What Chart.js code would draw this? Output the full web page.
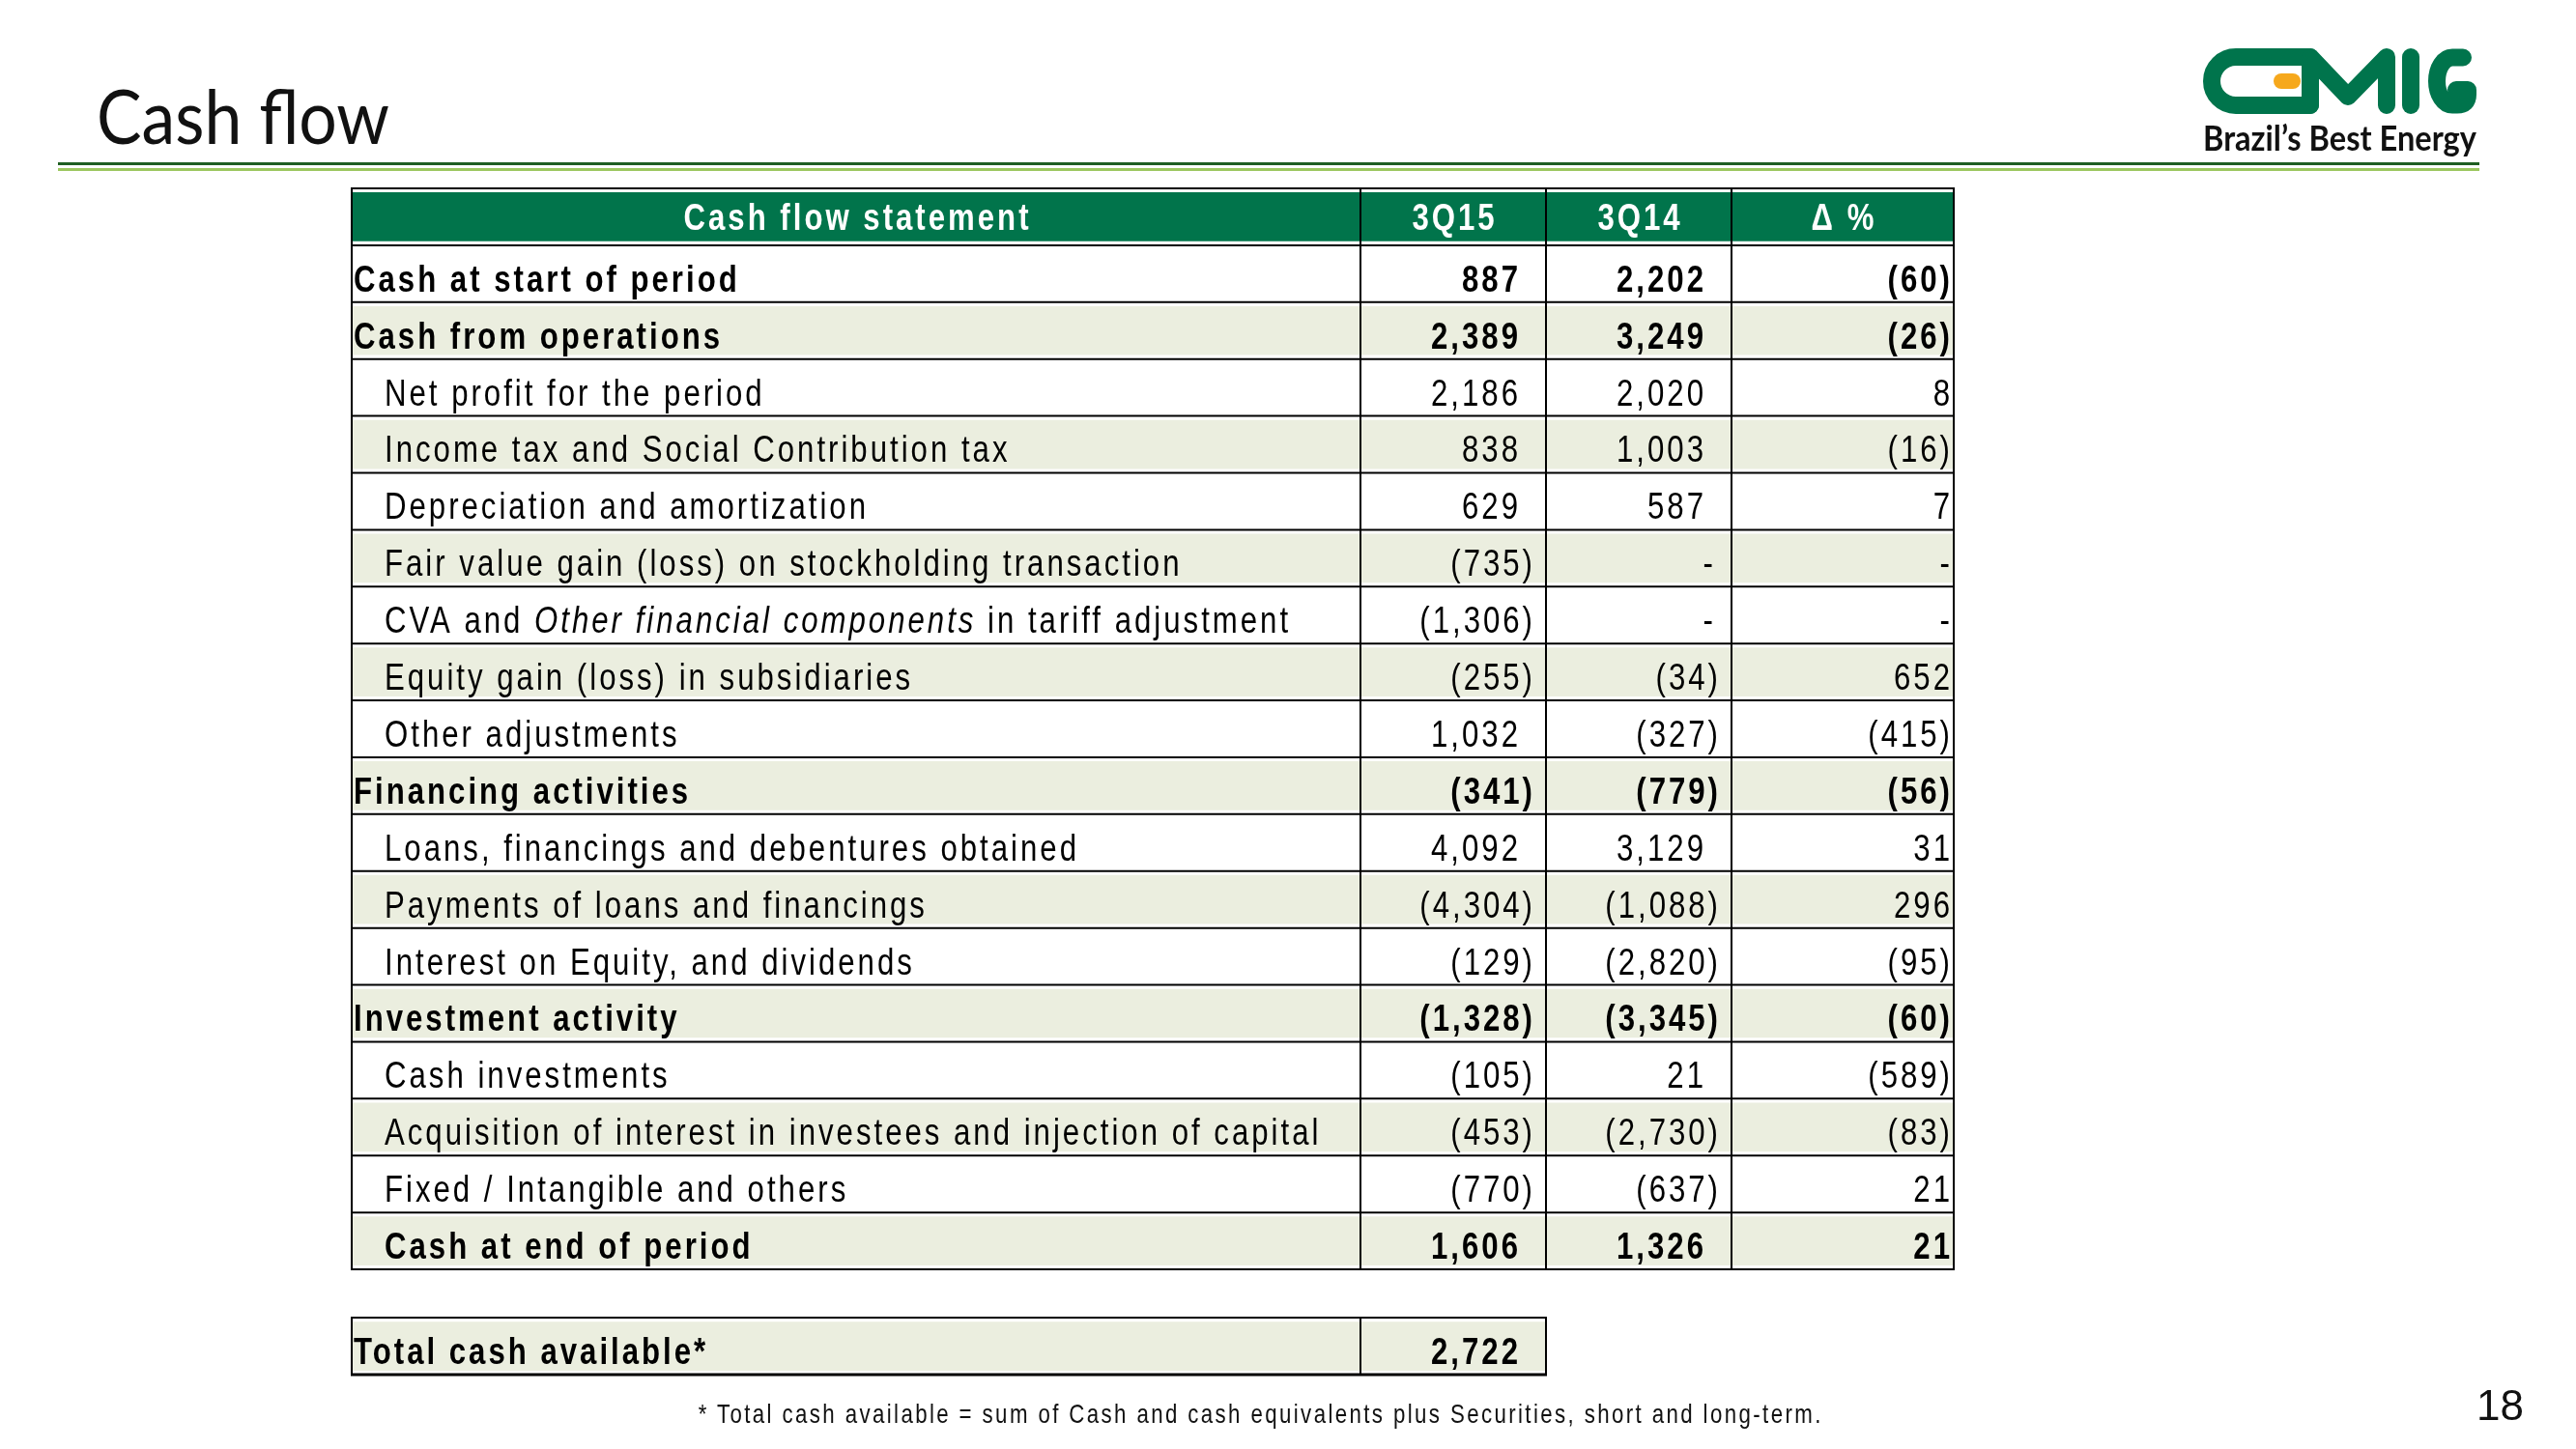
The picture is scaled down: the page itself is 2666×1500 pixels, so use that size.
<!DOCTYPE html>
<html lang="en">
<head>
    <meta charset="UTF-8">
    <title>Cash flow</title>
    <script src="https://cdn.jsdelivr.net/npm/chart.js"></script>
    <style>
        body {
            margin: 0;
            width: 2666px;
            height: 1500px;
            position: relative;
            overflow: hidden;
            background: #fff;
        }
        #table { position: absolute; left: 0; top: 0; }
        .abs { position: absolute; white-space: nowrap; line-height: 1; }
        #title { left: 100px; top: 72px; font: 78px Lato, sans-serif; color: #111; transform-origin: left center; }
        .rule { position: absolute; left: 60px; width: 2506px; height: 3px; }
        #logo { position: absolute; left: 2280px; top: 48px; }
        #tagline { left: 2280px; top: 120px; font: bold 36px Lato, sans-serif; color: #111; transform-origin: left center; }
        #note { top: 1448px; font: 28px "Liberation Sans", Arial, sans-serif; letter-spacing: 3px; color: #111; transform-origin: center center; }
        #page { left: 2563px; top: 1430px; font: 44px "Liberation Sans", Arial, sans-serif; color: #111; }
    </style>
</head>
<body>
    <canvas id="table" width="2666" height="1500"></canvas>

    <div class="abs" id="title">Cash flow</div>
    <div class="rule" style="top:168px;background:#1f5e22"></div>
    <div class="rule" style="top:174px;background:#9cc760"></div>

    <svg id="logo" width="290" height="74" viewBox="0 0 290 74">
        <g fill="none" stroke="#00744c" stroke-width="18" stroke-linecap="round" stroke-linejoin="round">
            <path d="M111,11 H34 A25,25 0 0 0 34,61 H111"/>
            <path d="M111,61 V11 L150,52 L190,11 V61"/>
            <path d="M215,11 V61"/>
            <path d="M269,11.5 H258 A16,24.5 0 0 0 258,60.5 H263 Q274,60.5 274,50 V45 H262"/>
        </g>
        <rect x="73" y="28" width="28" height="16" rx="8" fill="#f6a81c"/>
    </svg>
    <div class="abs" id="tagline">Brazil’s Best Energy</div>

    <div class="abs" id="note">* Total cash available = sum of Cash and cash equivalents plus Securities, short and long-term.</div>
    <div class="abs" id="page">18</div>

    <script>
        // table content
        const headers = ['Cash flow statement', '3Q15', '3Q14', 'Δ %'];
        const rowLabels = [
            'Cash at start of period',
            'Cash from operations',
            'Net profit for the period',
            'Income tax and Social Contribution tax',
            'Depreciation and amortization',
            'Fair value gain (loss) on stockholding transaction',
            'CVA and Other financial components in tariff adjustment',
            'Equity gain (loss) in subsidiaries',
            'Other adjustments',
            'Financing activities',
            'Loans, financings and debentures obtained',
            'Payments of loans and financings',
            'Interest on Equity, and dividends',
            'Investment activity',
            'Cash investments',
            'Acquisition of interest in investees and injection of capital',
            'Fixed / Intangible and others',
            'Cash at end of period'
        ];
        const rowType = ['section', 'section', 'item', 'item', 'item', 'item', 'item', 'item', 'item',
            'section', 'item', 'item', 'item', 'section', 'item', 'item', 'item', 'closing'];
        const q315 = [887, 2389, 2186, 838, 629, -735, -1306, -255, 1032, -341, 4092, -4304, -129, -1328, -105, -453, -770, 1606];
        const q314 = [2202, 3249, 2020, 1003, 587, null, null, -34, -327, -779, 3129, -1088, -2820, -3345, 21, -2730, -637, 1326];
        const deltaPct = [-60, -26, 8, -16, 7, null, null, 652, -415, -56, 31, 296, -95, -60, -589, -83, 21, 21];
        const italicPart = 'Other financial components';
        const totalLabel = 'Total cash available*';
        const totalValue = 2722;

        // layout (table units = px of the table width)
        const colEdges = [0, 1044, 1236, 1428, 1658];
        const totalTop = rowLabels.length + 1 + 0.85;
        const green = '#01744b';
        const beige = '#ebeedf';
        const SX = 0.82;     // narrow face
        const LS = 3;        // letter spacing

        function fmt(v) {
            if (v === null) return '-';
            const s = Math.abs(v).toLocaleString('en-US');
            return v < 0 ? '(' + s + ')' : s;
        }

        function textW(ctx, s) {
            ctx.letterSpacing = '0px';
            return ctx.measureText(s).width * SX + LS * s.length;
        }

        function drawT(ctx, s, x, y) {
            ctx.save();
            ctx.translate(x, y);
            ctx.scale(SX, 1);
            ctx.letterSpacing = (LS / SX) + 'px';
            ctx.fillText(s, 0, 0);
            ctx.restore();
        }

        function font(bold, italic) {
            return (italic ? 'italic ' : '') + (bold ? 'bold ' : '') + '38px "Liberation Sans", Arial, sans-serif';
        }

        const barData = [{ y: 0.5, x: [colEdges[0], colEdges[4]] }];
        const barColors = [green];
        rowLabels.forEach((r, i) => {
            barData.push({ y: i + 1.5, x: [colEdges[0], colEdges[4]] });
            barColors.push(i % 2 === 1 ? beige : '#ffffff');
        });
        barData.push({ y: totalTop + 0.5, x: [colEdges[0], colEdges[2]] });
        barColors.push(beige);

        const tablePlugin = {
            id: 'tableCells',
            afterDatasetsDraw(chart) {
                const { ctx, scales: { x, y } } = chart;
                const X = v => x.getPixelForValue(v);
                const Y = v => y.getPixelForValue(v);
                const nRows = rowLabels.length + 1;

                ctx.save();
                ctx.strokeStyle = '#000';
                ctx.lineWidth = 2;
                ctx.beginPath();
                for (let i = 0; i <= nRows; i++) {
                    ctx.moveTo(X(colEdges[0]) - 1, Y(i));
                    ctx.lineTo(X(colEdges[4]) + 1, Y(i));
                }
                colEdges.forEach(c => {
                    ctx.moveTo(X(c), Y(0));
                    ctx.lineTo(X(c), Y(nRows));
                });
                ctx.stroke();

                // total box
                ctx.beginPath();
                ctx.rect(X(colEdges[0]), Y(totalTop), X(colEdges[2]) - X(colEdges[0]), Y(totalTop + 1) - Y(totalTop));
                ctx.moveTo(X(colEdges[1]), Y(totalTop));
                ctx.lineTo(X(colEdges[1]), Y(totalTop + 1));
                ctx.stroke();
                ctx.lineWidth = 3;
                ctx.beginPath();
                ctx.moveTo(X(colEdges[0]) - 1, Y(totalTop + 1));
                ctx.lineTo(X(colEdges[2]) + 1, Y(totalTop + 1));
                ctx.stroke();

                // header
                ctx.fillStyle = '#fff';
                ctx.font = font(true);
                headers.forEach((h, k) => {
                    const cx = (X(colEdges[k]) + X(colEdges[k + 1])) / 2;
                    const w = textW(ctx, h) - LS;
                    drawT(ctx, h, cx - w / 2, Y(1) - 16);
                });

                // body
                ctx.fillStyle = '#000';
                const valueCell = (v, k, base, bold) => {
                    ctx.font = font(bold);
                    const s = fmt(v);
                    const right = X(colEdges[k + 1]);
                    let edge;
                    if (k === 3) edge = right - 4;
                    else if (v === null) edge = right - 19;
                    else if (v < 0) edge = right - 14;
                    else edge = right - 29;
                    drawT(ctx, s, edge - (textW(ctx, s) - LS), base);
                };

                rowLabels.forEach((label, i) => {
                    const base = Y(i + 2) - 11;
                    const bold = rowType[i] !== 'item';
                    let lx = X(colEdges[0]) + (rowType[i] === 'section' ? 2 : 34);
                    const p = label.indexOf(italicPart);
                    const parts = p < 0 ? [[label, false]] :
                        [[label.slice(0, p), false], [italicPart, true], [label.slice(p + italicPart.length), false]];
                    parts.forEach(([s, it]) => {
                        ctx.font = font(bold, it);
                        drawT(ctx, s, lx, base);
                        lx += textW(ctx, s);
                    });
                    valueCell(q315[i], 1, base, bold);
                    valueCell(q314[i], 2, base, bold);
                    valueCell(deltaPct[i], 3, base, bold);
                });

                const tb = Y(totalTop + 1) - 11;
                ctx.font = font(true);
                drawT(ctx, totalLabel, X(colEdges[0]) + 2, tb);
                valueCell(totalValue, 1, tb, true);
                ctx.restore();
            }
        };

        new Chart(document.getElementById('table').getContext('2d'), {
            type: 'bar',
            data: {
                datasets: [{
                    data: barData,
                    backgroundColor: barColors,
                    borderWidth: 0,
                    barPercentage: 1,
                    categoryPercentage: 1
                }]
            },
            options: {
                indexAxis: 'y',
                responsive: false,
                animation: false,
                devicePixelRatio: 1,
                events: [],
                layout: { padding: { left: 364, right: 644, top: 195, bottom: 77 } },
                scales: {
                    x: { type: 'linear', min: colEdges[0], max: colEdges[4], display: false },
                    y: { type: 'linear', min: 0, max: totalTop + 1, reverse: true, offset: false, display: false }
                },
                plugins: { legend: { display: false }, tooltip: { enabled: false } }
            },
            plugins: [tablePlugin]
        });

        // fit decorative text to measured widths
        function fit(id, width, center) {
            const el = document.getElementById(id);
            const w = el.getBoundingClientRect().width;
            el.style.transform = 'scaleX(' + (width / w) + ')';
            if (center !== undefined) el.style.left = (center - w / 2) + 'px';
        }
        fit('title', 303);
        fit('tagline', 283);
        fit('note', 1164, 1305);
    </script>
</body>
</html>
